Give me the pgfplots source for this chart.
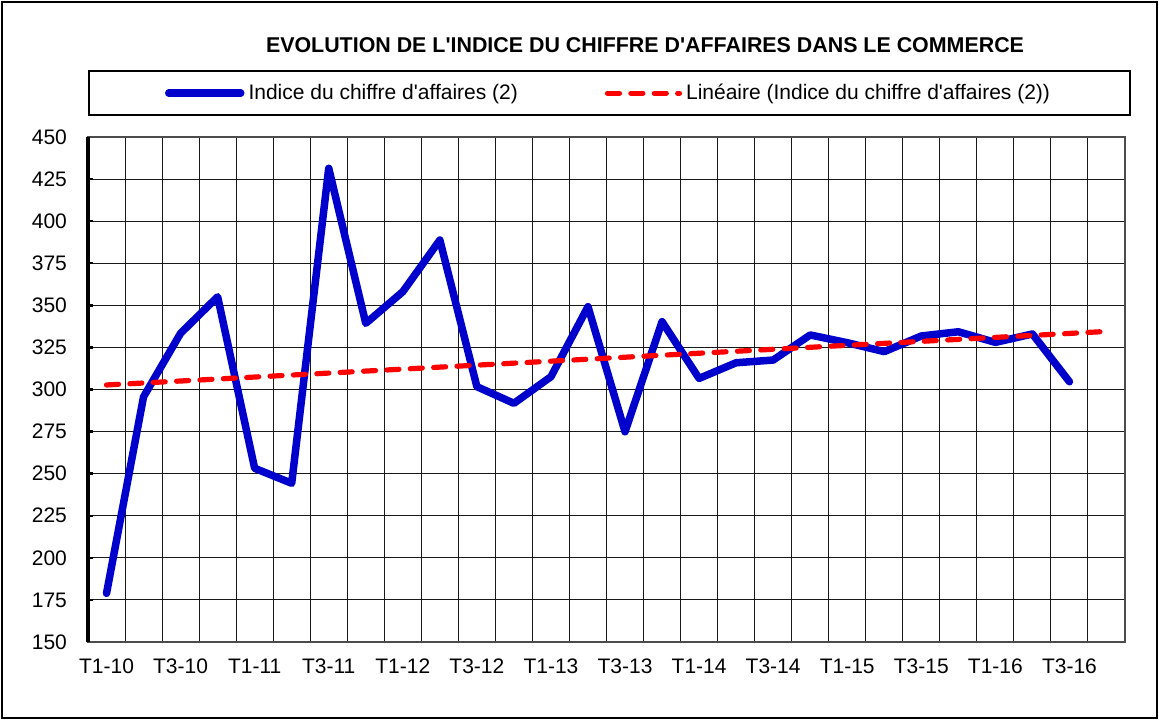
\documentclass[border=0pt]{standalone}
\usepackage{fontspec}
\setmainfont{Liberation Sans}
\usepackage{pgfplots}
\pgfplotsset{compat=1.18}
\definecolor{serieblue}{RGB}{0,0,204}
\definecolor{trendred}{RGB}{255,0,0}
\begin{document}
\begin{tikzpicture}[x=0.5pt,y=0.5pt]
\useasboundingbox (0,0) rectangle (1159,720);
\draw[line width=1] (2,2) rectangle (1157,718);
\node[font=\bfseries\fontsize{10.7}{12}\selectfont] at (645,675) {EVOLUTION DE L\textquotesingle INDICE DU CHIFFRE D\textquotesingle AFFAIRES DANS LE COMMERCE};
\begin{axis}[
  at={(44pt,39pt)}, anchor=south west,
  scale only axis, width=518.5pt, height=252.5pt,
  xmin=-0.5, xmax=27.5, ymin=150, ymax=450,
  xtick={0,2,...,26},
  xticklabels={T1-10,T3-10,T1-11,T3-11,T1-12,T3-12,T1-13,T3-13,T1-14,T3-14,T1-15,T3-15,T1-16,T3-16},
  minor xtick={0.5,1.5,...,26.5},
  xminorgrids=true, xmajorgrids=false,
  ytick={150,175,...,450}, ymajorgrids=true, ytick pos=left,
  grid style={black!90, line width=0.5pt},
  minor grid style={black!90, line width=0.5pt},
  x tick style={draw=none}, minor x tick style={draw=none},
  y tick style={black, line width=1.2pt},
  major tick length=2.5pt, tick align=inside,
  axis line style={black!70, line width=0.7pt},
  tick label style={font=\fontsize{10.5}{12}\selectfont},
  /pgf/number format/assume math mode=true,
  yticklabel style={xshift=-7pt},
  xticklabel style={yshift=-5pt},
  legend columns=2,
  legend style={at={(0,1.1327)}, anchor=north west, draw=black, line width=1pt,
    font=\fontsize{10.5}{12}\selectfont, inner xsep=38pt, inner ysep=4.5pt,
    /tikz/every even column/.append style={column sep=41.5pt}},
  legend image code/.code={\draw[#1] (0pt,0pt) -- (36pt,0pt);},
  after end axis/.code={\draw[black, line width=2pt] (rel axis cs:0,0) -- (rel axis cs:0,1);},
]
\addplot[serieblue, line width=3.75pt, line join=round, line cap=round] coordinates {
(0,178.9) (1,295.7) (2,333.4) (3,355.1) (4,253.2) (5,244.3) (6,431.4) (7,339.3)
(8,358.1) (9,388.8) (10,301.7) (11,291.8) (12,307.6) (13,349.2) (14,274.9) (15,340.3)
(16,306.6) (17,315.9) (18,317.5) (19,332.4) (20,327.8) (21,322.5) (22,331.8) (23,334.3)
(24,328.0) (25,333.0) (26,304.6)};
\addlegendentry{Indice du chiffre d\textquotesingle affaires (2)}
\addplot[trendred, line width=2.6pt, line cap=round, dash pattern=on 6pt off 5.7pt] coordinates {
(0,302.7) (27,334.5)};
\addlegendentry{Linéaire (Indice du chiffre d\textquotesingle affaires (2))}
\end{axis}
\end{tikzpicture}
\end{document}
